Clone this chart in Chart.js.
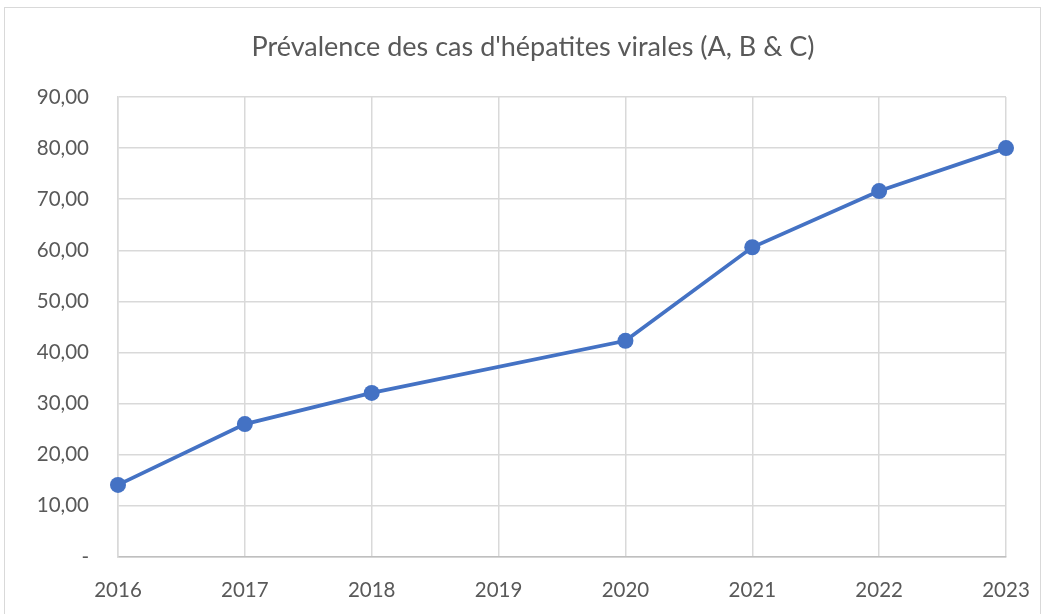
<!DOCTYPE html>
<html lang="fr">
<head>
  <meta charset="UTF-8">
  <title>Prévalence des cas d'hépatites virales</title>
  <script src="https://cdn.jsdelivr.net/npm/chart.js"></script>
  <style>
    body {
      margin: 0;
      background: #fff;
      font-family: Lato, "Open Sans", sans-serif;
    }
    #wrap {
      position: relative;
      width: 1047px;
      height: 614px;
      overflow: hidden;
    }
    #frame {
      position: absolute;
      left: 4px;
      top: 7px;
      width: 1035px;
      height: 640px;
      border: 1px solid #d9d9d9;
      pointer-events: none;
    }
  </style>
</head>
<body>
  <div id="wrap">
    <canvas id="chart" width="1047" height="614"></canvas>
    <div id="frame"></div>
  </div>

  <script>
    // values (2019 has no point)
    const years = ['2016', '2017', '2018', '2019', '2020', '2021', '2022', '2023'];
    const prevalence = [14.1, 26.0, 32.1, null, 42.3, 60.6, 71.6, 80.0];
    const yTicks = [0, 10, 20, 30, 40, 50, 60, 70, 80, 90];

    const grey = '#595959';

    // the original title is centred a bit right of the canvas middle
    const shiftTitle = {
      id: 'shiftTitle',
      afterLayout(chart) {
        const t = chart.titleBlock;
        if (t) { t.left += 30; t.right += 30; }
      }
    };

    new Chart(document.getElementById('chart'), {
      type: 'line',
      data: {
        labels: years,
        datasets: [{
          label: 'Prévalence',
          data: prevalence,
          borderColor: '#4472C4',
          backgroundColor: '#4472C4',
          borderWidth: 3.75,
          pointRadius: 8,
          pointHoverRadius: 8,
          pointBorderWidth: 0,
          spanGaps: true,
          tension: 0,
          fill: false,
        }],
      },
      options: {
        responsive: false,
        animation: false,
        layout: {
          padding: { left: 0, right: 41, top: 0, bottom: 12 }
        },
        plugins: {
          legend: { display: false },
          tooltip: { enabled: false },
          title: {
            display: true,
            text: "Prévalence des cas d'hépatites virales (A, B & C)",
            color: grey,
            font: { family: 'Lato', size: 27, weight: 'normal' },
            padding: { top: 31, bottom: 33.6 },
          },
        },
        scales: {
          x: {
            offset: false,
            grid: { color: '#d9d9d9', lineWidth: 1.5, drawTicks: false },
            border: { color: '#bfbfbf', width: 1.5 },
            ticks: {
              color: grey,
              font: { family: 'Lato', size: 20.5 },
              padding: 21,
              maxRotation: 0,
            },
            afterFit: (s) => {
              s.height = 45;
              s.paddingLeft = 0;
              s.paddingRight = 0;
            },
          },
          y: {
            min: 0,
            max: 90,
            afterBuildTicks: (s) => { s.ticks = yTicks.map(v => ({ value: v })); },
            grid: { color: '#d9d9d9', lineWidth: 1.5, drawTicks: false },
            border: { color: '#d9d9d9', width: 1.5 },
            ticks: {
              color: grey,
              font: { family: 'Lato', size: 20.5 },
              padding: 29,
              callback: (v) => v === 0 ? '-' : v.toFixed(2).replace('.', ','),
            },
            afterFit: (s) => { s.width = 118; },
          },
        },
      },
      plugins: [shiftTitle],
    });
  </script>
</body>
</html>
